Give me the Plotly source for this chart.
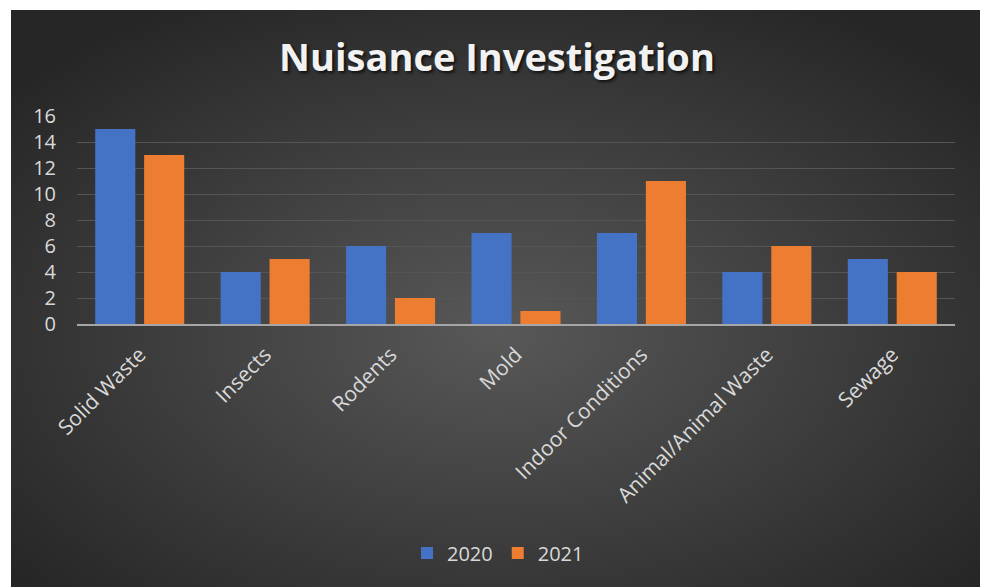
import base64
import plotly.graph_objects as go

categories = ["Solid Waste", "Insects", "Rodents", "Mold", "Indoor Conditions",
              "Animal/Animal Waste", "Sewage"]
values_2020 = [15, 4, 6, 7, 7, 4, 5]
values_2021 = [13, 5, 2, 1, 11, 6, 4]
y_ticks = [0, 2, 4, 6, 8, 10, 12, 14, 16]

W, H = 988, 587
OFF = 8  # page body margin shifts the figure by this much
L, T = 77 - OFF, 116 - OFF
R, B = W - (955 - OFF), H - (324 - OFF)
pw, ph = W - L - R, H - T - B

# dark radial background of the chart area, as an svg image
svg = """<svg xmlns='http://www.w3.org/2000/svg' width='975' height='585'>
<defs><radialGradient id='g' cx='50%' cy='55%' r='65%'>
<stop offset='0' stop-color='#585858'/><stop offset='1' stop-color='#262626'/>
</radialGradient></defs>
<rect width='975' height='585' fill='url(#g)'/></svg>"""
bg_src = "data:image/svg+xml;base64," + base64.b64encode(svg.encode()).decode()

font = "Open Sans"
fig = go.Figure()
fig.add_trace(go.Bar(x=categories, y=values_2020, name="2020",
                     marker=dict(color="#4472c4", line=dict(width=0))))
fig.add_trace(go.Bar(x=categories, y=values_2021, name="2021",
                     marker=dict(color="#ed7d31", line=dict(width=0))))

fig.update_layout(
    width=W, height=H,
    margin=dict(l=L, r=R, t=T, b=B, autoexpand=False),
    paper_bgcolor="white", plot_bgcolor="rgba(0,0,0,0)",
    bargap=0.22, bargroupgap=0.18,
    title=dict(text="<b>Nuisance Investigation</b>", x=(497 - OFF) / W, xanchor="center",
               y=1 - (58 - OFF) / H, yanchor="middle",
               font=dict(family=font, size=38, color="#f2f2f2",
                         shadow="2px 2px 3px rgba(0,0,0,0.7)")),
    font=dict(family=font, color="#d9d9d9"),
    xaxis=dict(tickangle=-45, tickfont=dict(size=21, color="#d9d9d9"),
               showgrid=False, showline=True, linecolor="#a6a6a6", linewidth=2,
               ticks="", ticklabelstandoff=8),
    yaxis=dict(range=[0, 16], tickvals=y_ticks, tickfont=dict(size=20, color="#d9d9d9"),
               showgrid=True, gridcolor="#555555", gridwidth=1,
               zeroline=False, showline=False, ticks="", ticklabelstandoff=20),
    legend=dict(orientation="h", x=(498 - OFF - L) / pw, xanchor="center",
                y=-(553 - 324) / ph, yanchor="middle", itemwidth=30,
                font=dict(size=20, color="#d9d9d9"), bgcolor="rgba(0,0,0,0)"),
    images=[dict(source=bg_src, xref="paper", yref="paper",
                 x=(11 - 77) / pw, y=(324 - 10) / ph,
                 sizex=975 / pw, sizey=585 / ph,
                 xanchor="left", yanchor="top", sizing="stretch", layer="below")],
)

fig.write_html("out.html")
